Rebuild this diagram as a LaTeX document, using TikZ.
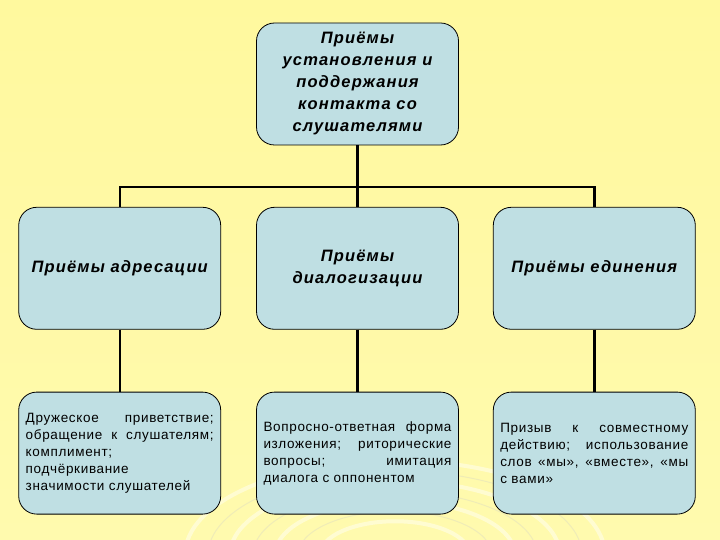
\documentclass[tikz,border=0pt]{standalone}
\usepackage{fontspec}
\setmainfont{Liberation Sans}
\newfontfamily\headfont[LetterSpace=7]{Liberation Sans}
\newfontfamily\bodyfont[LetterSpace=5]{Liberation Sans}
\usetikzlibrary{positioning,calc}

\definecolor{boxfill}{RGB}{191,223,227}
\definecolor{bgtop}{RGB}{255,248,150}
\definecolor{bgmid}{RGB}{255,250,175}
\definecolor{bgbot}{RGB}{255,254,238}
\pgfdeclareverticalshading{bgshade}{100bp}{color(0bp)=(bgbot); color(22bp)=(bgmid); color(100bp)=(bgtop)}

\begin{document}
\begin{tikzpicture}[
  x=1pt, y=1pt,
  head/.style={draw=black, line width=0.8pt, fill=boxfill, rounded corners=18pt,
    minimum width=202pt, minimum height=122pt, align=center, inner sep=0pt,
    font=\fontsize{16.5}{22}\headfont\bfseries\itshape},
  body/.style={draw=black, line width=0.8pt, fill=boxfill, rounded corners=18pt,
    minimum width=202pt, minimum height=122pt, text width=188pt, align=justify, inner sep=0pt,
    font=\fontsize{13.5}{17}\bodyfont,
    execute at begin node={\hyphenpenalty=10000\relax\exhyphenpenalty=10000\relax\tolerance=10000\relax}},
  link/.style={line width=2.4pt}
]
  % background
  \useasboundingbox (0,0) rectangle (720,-540);
  \shade[shading=bgshade] (0,0) rectangle (720,-540);
  \begin{scope}
    \clip (0,0) rectangle (720,-540);
    \foreach \r in {75,120,165,210}
      \draw[white, line width=4pt, opacity=0.45] (395,-555) ellipse [x radius=\r, y radius=0.45*\r];
    \foreach \r in {97,142,187}
      \draw[gray!40, line width=1pt, opacity=0.3] (395,-555) ellipse [x radius=\r, y radius=0.45*\r];
  \end{scope}

  % headings
  \node[head] (contact) at (357.5,-84) {Приёмы\\установления и\\поддержания\\контакта со\\слушателями};
  \node[head, below=61.5pt of contact] (dialog) {Приёмы\\диалогизации};
  \node[head, left=35pt of dialog] (address) {Приёмы адресации};
  \node[head, right=34pt of dialog] (unity) {Приёмы единения};

  % descriptions
  \node[body, below=62pt of address] (addrtext) {Дружеское приветствие;\linebreak
    обращение к слушателям;\linebreak комплимент;\\ подчёркивание\\ значимости слушателей};
  \node[body, below=62pt of dialog] (dialtext) {Вопросно-ответная форма\linebreak
    изложения; риторические\linebreak вопросы; имитация\linebreak диалога с оппонентом};
  \node[body, below=62pt of unity] (unitext) {Призыв к совместному\linebreak
    действию; использование\linebreak слов «мы», «вместе», «мы\linebreak с вами»};

  % connectors
  \coordinate (bus) at ($(contact.south)+(0,-41.5pt)$);
  \draw[link] (contact) -- (bus);
  \draw[link] (address.north) |- (bus) -| (unity.north);
  \draw[link] (dialog) -- (dialog |- bus);
  \draw[link] (address) -- (addrtext);
  \draw[link] (dialog) -- (dialtext);
  \draw[link] (unity) -- (unitext);
\end{tikzpicture}
\end{document}
